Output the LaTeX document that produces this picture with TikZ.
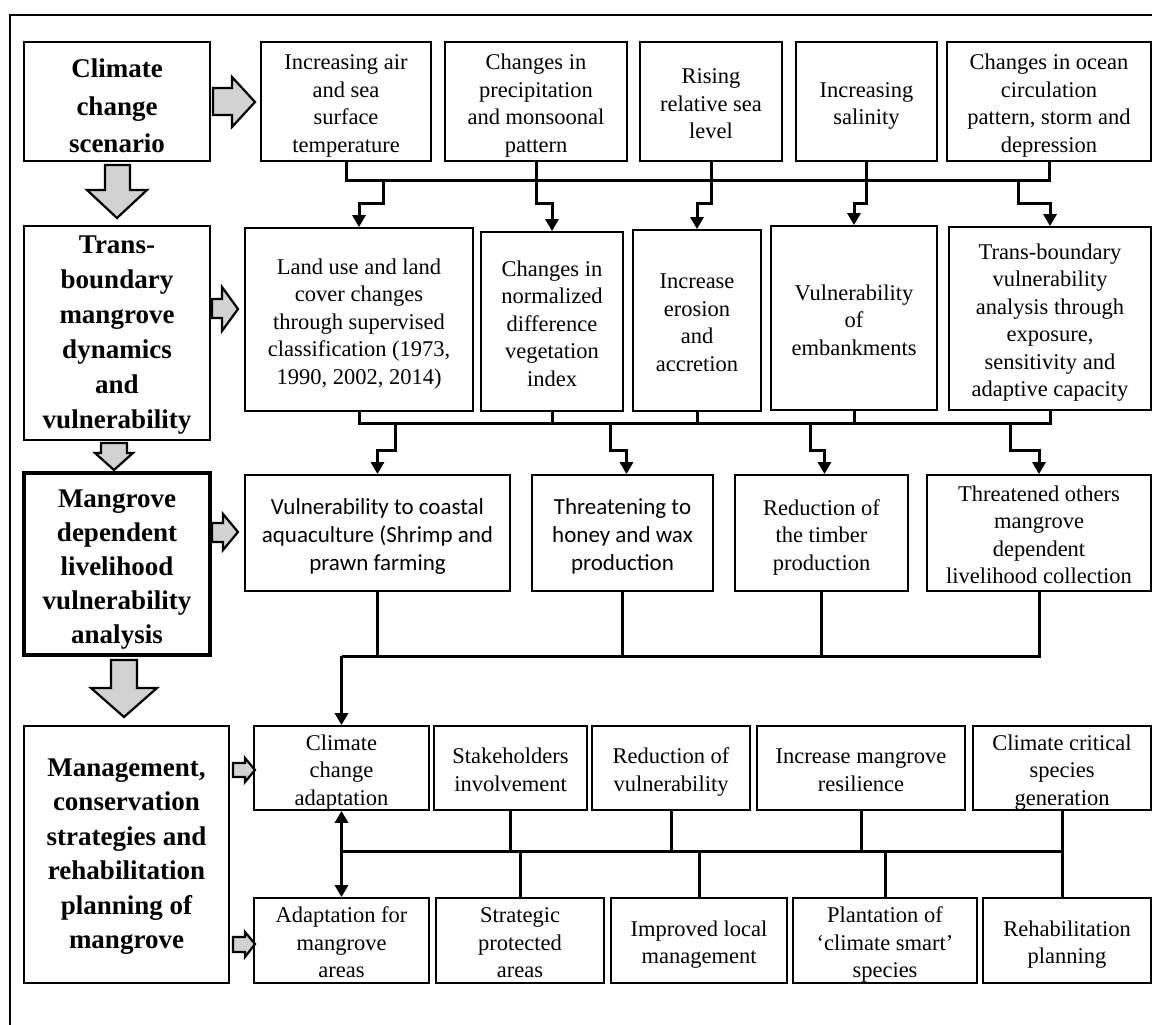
\documentclass[tikz,border=0pt]{standalone}
\usepackage{fontspec}
\setmainfont{Liberation Serif}
\newfontfamily\calfont{Carlito}
\usetikzlibrary{arrows.meta}
% \bx[style]{name}{x1}{y1}{x2}{y2}{text}
\newcommand\bx[7][box]{\node[#1, minimum width={#5-#3}, minimum height={#6-#4}] (#2) at ({(#3+#5)/2},{(#4+#6)/2}) {\raisebox{-\tshiftval}[\height][\depth]{\begin{tabular}{@{}c@{}}#7\end{tabular}}};}
\begin{document}
\begin{tikzpicture}[x=1pt,y=-1pt,
 tshift/.store in=\tshiftval, tshift=4pt,
 box/.style={draw, line width=1.8pt, inner sep=0pt, font=\fontsize{22.5}{27.5}\selectfont},
 sbox/.style={box, font=\calfont\fontsize{23}{28.3}\selectfont},
 title/.style={box, font=\bfseries\fontsize{27}{35}\selectfont},
 conn/.style={line width=3pt},
 carr/.style={conn, -{Triangle[width=13pt,length=12pt]}},
 darr/.style={conn, {Triangle[width=13pt,length=12pt]}-{Triangle[width=13pt,length=12pt]}},
 blk/.style={draw, line width=2.2pt, fill=gray!35, line join=miter},
]
\fill[white] (0,0) rectangle (1152,1025);
\useasboundingbox (0,0) rectangle (1152,1025);
\begin{scope}
\clip (0,0) rectangle (1152,1025);
\draw[line width=1.6pt] (10,15) rectangle (1175,1050);
\end{scope}

% Row 1
\bx[title, tshift=6pt, font=\bfseries\fontsize{27}{37.5}\selectfont]{t1}{24}{42}{210}{161}{Climate\\change\\scenario}
\bx{c1}{261}{42}{431}{161}{Increasing air\\and sea\\surface\\temperature}
\bx{c2}{445}{42}{627}{161}{Changes in\\precipitation\\and monsoonal\\pattern}
\bx{c3}{640}{42}{782}{161}{Rising\\relative sea\\level}
\bx{c4}{796}{42}{937}{161}{Increasing\\salinity}
\bx{c5}{947}{42}{1151}{161}{Changes in ocean\\circulation\\pattern, storm and\\depression}

% Row 2
\bx[title, tshift=1pt]{t2}{24}{226}{210}{440}{Trans-\\boundary\\mangrove\\dynamics\\and\\vulnerability}
\bx{lu}{245}{228}{473}{411}{Land use and land\\cover changes\\through supervised\\classification (1973,\\1990, 2002, 2014)}
\bx{nd}{481}{232}{623}{411}{Changes in\\normalized\\difference\\vegetation\\index}
\bx{er}{633}{230}{761}{411}{Increase\\erosion\\and\\accretion}
\bx{em}{771}{226}{937}{410}{Vulnerability\\of\\embankments}
\bx{tb}{949}{227}{1151}{410}{Trans-boundary\\vulnerability\\analysis through\\exposure,\\sensitivity and\\adaptive capacity}

% Row 3
\bx[title, tshift=5pt, line width=3.5pt, font=\bfseries\fontsize{27}{34}\selectfont]{t3}{24}{473}{210}{655}{Mangrove\\dependent\\livelihood\\vulnerability\\analysis}
\bx[sbox]{va}{245}{475}{510}{591}{Vulnerability to coastal\\aquaculture (Shrimp and\\prawn farming}
\bx[sbox]{th}{532}{475}{713}{591}{Threatening to\\honey and wax\\production}
\bx{rd}{735}{475}{908}{591}{Reduction of\\the timber\\production}
\bx{tho}{927}{475}{1151}{591}{Threatened others\\mangrove\\dependent\\livelihood collection}

% Row 4
\bx[title, tshift=1pt, font=\bfseries\fontsize{27}{34.5}\selectfont]{t4}{24}{726}{229}{983}{Management,\\conservation\\strategies and\\rehabilitation\\planning of\\mangrove}
\bx{ca}{254}{726}{429}{810}{Climate\\change\\adaptation}
\bx{sh}{434}{726}{587}{810}{Stakeholders\\involvement}
\bx{rv}{592}{726}{750}{810}{Reduction of\\vulnerability}
\bx{im}{757}{726}{965}{810}{Increase mangrove\\resilience}
\bx{cc}{973}{726}{1151}{810}{Climate critical\\species\\generation}

% Row 5
\bx{ad}{254}{898}{429}{983}{Adaptation for\\mangrove\\areas}
\bx{sp}{436}{898}{604}{983}{Strategic\\protected\\areas}
\bx{il}{611}{898}{787}{983}{Improved local\\management}
\bx{pl}{793}{898}{977}{983}{Plantation of\\‘climate smart’\\species}
\bx{rh}{983}{898}{1151}{983}{Rehabilitation\\planning}

% bus 1
\coordinate (b1) at (0,180); \coordinate (j1) at (0,203);
\coordinate (s11) at (383,180); \coordinate (s15) at (1018,180);
\draw[conn] (c1.south) -- (c1.south |- b1) -- (c5.south |- b1) -- (c5.south);
\draw[conn] (c2.south) -- (c2.south |- b1);
\draw[conn] (c3.south) -- (c3.south |- b1);
\draw[conn] (c4.south) -- (c4.south |- b1);
\draw[carr] (s11) -- (s11 |- j1) -| (lu.north);
\draw[carr] (c2.south |- b1) -- (c2.south |- j1) -| (nd.north);
\draw[carr] (c3.south |- b1) -- (c3.south |- j1) -| (er.north);
\draw[carr] (c4.south |- b1) -- (c4.south |- j1) -| (em.north);
\draw[carr] (s15) -- (s15 |- j1) -| (tb.north);

% bus 2
\coordinate (b2) at (0,423); \coordinate (j2) at (0,450);
\coordinate (s21) at (395,423); \coordinate (s22) at (610,423);
\coordinate (s23) at (810,423); \coordinate (s24) at (1010,423);
\draw[conn] (lu.south) -- (lu.south |- b2) -- (tb.south |- b2) -- (tb.south);
\draw[conn] (nd.south) -- (nd.south |- b2);
\draw[conn] (er.south) -- (er.south |- b2);
\draw[conn] (em.south) -- (em.south |- b2);
\draw[carr] (s21) -- (s21 |- j2) -| (va.north);
\draw[carr] (s22) -- (s22 |- j2) -| ([xshift=4pt]th.north);
\draw[carr] (s23) -- (s23 |- j2) -| ([xshift=3pt]rd.north);
\draw[carr] (s24) -- (s24 |- j2) -| (tho.north);

% bus 3
\coordinate (b3) at (0,656);
\draw[conn] (ca.north |- b3) -- (tho.south |- b3) -- (tho.south);
\draw[conn] (va.south) -- (va.south |- b3);
\draw[conn] (th.south) -- (th.south |- b3);
\draw[conn] (rd.south) -- (rd.south |- b3);
\draw[carr] (ca.north |- b3) -- (ca.north);

% bus 4
\coordinate (b4) at (0,851);
\draw[darr] (ca.south) -- (ad.north);
\draw[conn] (ca.south |- b4) -- (cc.south |- b4);
\draw[conn] (cc.south) -- (cc.south |- rh.north);
\draw[conn] (sh.south) -- (sh.south |- b4);
\draw[conn] (rv.south) -- (rv.south |- b4);
\draw[conn] (im.south) -- (im.south |- b4);
\draw[conn] (sp.north) -- (sp.north |- b4);
\draw[conn] (il.north) -- (il.north |- b4);
\draw[conn] (pl.north) -- (pl.north |- b4);

% block arrows
\draw[blk] (105,165) -- (130,165) -- (130,190) -- (147,190) -- (117,218) -- (87,190) -- (105,190) -- cycle;
\draw[blk] (213,88) -- (232,88) -- (232,77) -- (255,102) -- (232,127) -- (232,115) -- (213,115) -- cycle;
\draw[blk] (212,299) -- (222,299) -- (222,287) -- (238,309) -- (222,331) -- (222,318) -- (212,318) -- cycle;
\draw[blk] (101,443) -- (127,443) -- (127,453) -- (133,453) -- (114,470) -- (95,453) -- (101,453) -- cycle;
\draw[blk] (212,523) -- (223,523) -- (223,514) -- (238,532) -- (223,550) -- (223,542) -- (212,542) -- cycle;
\draw[blk] (111,660) -- (137,660) -- (137,688) -- (157,688) -- (124,717) -- (91,688) -- (111,688) -- cycle;
\draw[blk] (233,763) -- (245,763) -- (245,758) -- (255,770) -- (245,782) -- (245,777) -- (233,777) -- cycle;
\draw[blk] (233,937) -- (245,937) -- (245,932) -- (255,944) -- (245,957) -- (245,952) -- (233,952) -- cycle;
\end{tikzpicture}
\end{document}
